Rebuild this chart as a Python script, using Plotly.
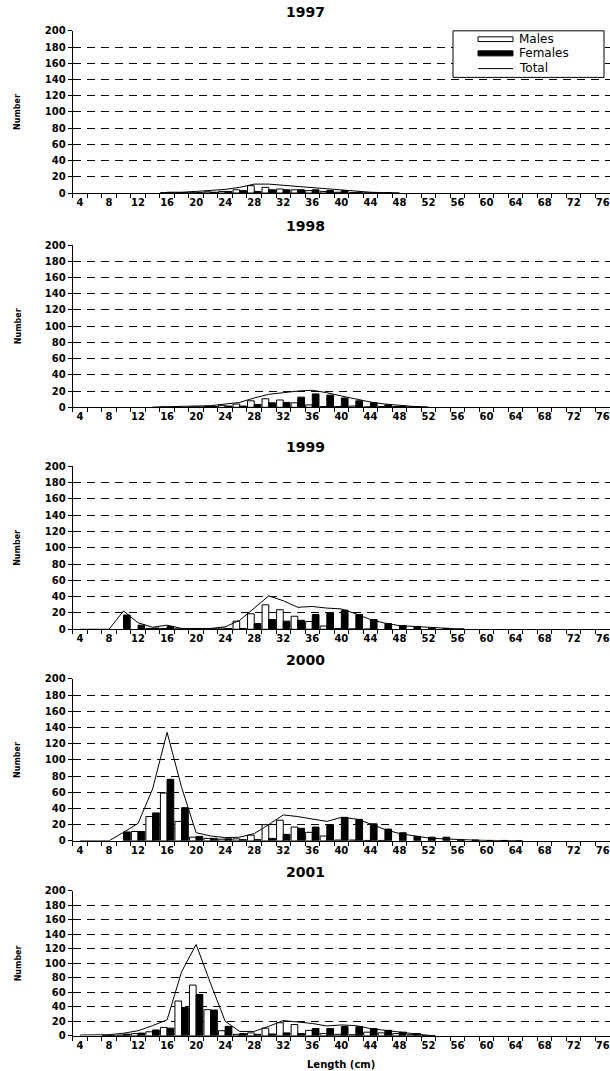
import plotly.graph_objects as go

# Length classes (cm)
lengths = [4, 6, 8, 10, 12, 14, 16, 18, 20, 22, 24, 26, 28, 30, 32, 34, 36, 38, 40,
           42, 44, 46, 48, 50, 52, 54, 56, 58, 60, 62, 64, 66, 68, 70, 72, 74, 76]
tick_vals = [4, 8, 12, 16, 20, 24, 28, 32, 36, 40, 44, 48, 52, 56, 60, 64, 68, 72, 76]
tick_text = [str(v) for v in tick_vals]
years = ["1997", "1998", "1999", "2000", "2001"]
N = None

#                4  6  8  10 12 14 16   18   20   22   24   26   28   30    32   34   36   38   40   42   44   46   48   50   52   54   56   58 60 62 64 66 68 70 72 74 76
males_1997   = [N, N, N, N, N, N, 0.5, 0.5, 1,   1.5, 2,   4,   9,   7,    5,   4,   3,   2,   1,   0.5, 0.3, N,   N,   N,   N,   N,   N,   N, N, N, N, N, N, N, N, N, N]
females_1997 = [N, N, N, N, N, N, 0.3, 0.5, 0.5, 1,   2,   3,   2,   4,    4,   4,   4,   3,   3,   1,   0.5, 0.3, N,   N,   N,   N,   N,   N, N, N, N, N, N, N, N, N, N]
total_1997   = [N, N, N, N, N, N, 1,   1,   2,   3,   4.5, 7,   11,  11,   9.5, 8,   7,   5,   4,   2,   1,   0.5, 0.3, N,   N,   N,   N,   N, N, N, N, N, N, N, N, N, N]

males_1998   = [N, N, N, N, N, N, 0.3, 0.3, 0.5, 1,   2.5, 4,   8,   10.5, 9,   5.5, 3,   1,   1,   1.5, 0.5, 1,   1,   0.3, N,   N,   N,   N, N, N, N, N, N, N, N, N, N]
females_1998 = [N, N, N, N, N, N, N,   N,   0.5, 1,   1.5, 1.5, 3.5, 5.5,  6,   12.5,16.5,15,  11.5,8,   5.5, 3,   1.5, 0.5, N,   N,   N,   N, N, N, N, N, N, N, N, N, N]
total_1998   = [N, N, N, N, N, 0.3, 0.5, 0.8, 1,   2,   4,   6,   11.5,16,   18,  20,  21,  18,  14,  10,  6.5, 4,   2.5, 1,   0.5, N,   N,   N, N, N, N, N, N, N, N, N, N]

males_1999   = [N, N, N, N,    N, 1,   1,   0.5, 0.3, 0.5, 1.5, 10,  19,  30,   24,  16,  9.5, 4,   1,   0.5, 0.3, N,   N,   N,   N,   N,   N,   N, N, N, N, N, N, N, N, N, N]
females_1999 = [N, N, N, 17.5, 5, 1.5, 3.5, 0.5, 0.3, 0.5, 1,   1,   7,   12,   10,  11,  18,  20.5,23.5,18,  12,  7,   4.5, 3.5, 1.5, 1,   0.5, N, N, N, N, N, N, N, N, N, N]
total_1999   = [0, 0, 0, 22.5, 8, 2.5, 5,   1,   0.8, 1,   3,   11,  26,  41,   35,  27,  28,  26,  25,  19,  12,  7.5, 4.5, 3.5, 2,   1,   0.5, N, N, N, N, N, N, N, N, N, N]

males_2000   = [N, N, N, N,    11.5, 30,   59,  24,  4.5, 3,   2,   2.5, 7,   20,  25.5, 17,   10.5, 6,   1,   1,   0.5, 0.5, N,   N,   N,   N,   N,   N,   N,   N,   N,   N, N, N, N, N, N]
females_2000 = [N, N, N, 11,   11.5, 34.5, 76,  41,  5.5, 3,   2.5, 1.5, 1.5, 3,   8,    15.5, 17,   20,  29,  26.5,21,  14.5,10,  5.5, 4.5, 4.5, 1,   1,   0.5, 0.5, 0.3, N, N, N, N, N, N]
total_2000   = [0, 0, 0, 10.5, 21.5, 64,   134, 66,  10,  6,   4,   4.5, 9,   20,  32,   30,   27,   24,  29,  27,  21,  14,  9,   6,   3.5, 2.5, 1.5, 1,   0.5, 0.5, 0.3, N, N, N, N, N, N]

males_2001   = [N,   N,   0.5, 1,   3,   5.5, 11.5, 48,   70,  36,   7,  2,  4,   10.5, 18,  15.5, 7.5,  3,    2,  1.5,  5,  4,   3,   1.5, 0.5, N, N, N, N, N, N, N, N, N, N, N, N]
females_2001 = [N,   N,   0.5, 2.3, 3.7, 8,   10.5, 39,   57,  35.5, 13, 3,  2,   2.5,  4,   3,    10,   10,   13, 12.5, 10, 7.5, 5,   3,   0.5, N, N, N, N, N, N, N, N, N, N, N, N]
total_2001   = [1,   1.5, 1.5, 3.5, 7,   14,  22,   88.5, 126, 72,   20, 6,  6,   13,   21,  19,  17,   13.5, 15, 14,   10, 7.5, 5,   2.5, 0.5, N, N, N, N, N, N, N, N, N, N, N, N]

males = [males_1997, males_1998, males_1999, males_2000, males_2001]
females = [females_1997, females_1998, females_1999, females_2000, females_2001]
totals = [total_1997, total_1998, total_1999, total_2000, total_2001]

W, H = 610, 1071
# plot areas in pixels: (top, bottom)
panels_px = [(30, 192), (244, 406), (465, 627.7), (677.3, 839), (889, 1033.7)]
title_y_px = [11, 225, 446, 658, 870]
x_left_px, x_right_px = 72.7, 610


def fy(p):
    p = (p - 5.2) / 0.9885
    return 1 - p / H


def fx(p):
    return p / W


FONT = "DejaVu Sans"
fig = go.Figure()
layout = dict(
    width=W, height=H, margin=dict(l=0, r=0, t=0, b=0),
    paper_bgcolor="white", plot_bgcolor="white",
    barmode="group", bargap=0.08, bargroupgap=0.0,
    showlegend=False, font=dict(family=FONT, color="black"),
)
annotations = []
shapes = []

for i, yr in enumerate(years):
    sfx = "" if i == 0 else str(i + 1)
    xa, ya = "x" + sfx, "y" + sfx
    fig.add_trace(go.Bar(x=lengths, y=males[i], xaxis=xa, yaxis=ya, name="Males",
                         marker=dict(color="white", line=dict(color="black", width=1))))
    fig.add_trace(go.Bar(x=lengths, y=females[i], xaxis=xa, yaxis=ya, name="Females",
                         marker=dict(color="black", line=dict(color="black", width=1))))
    fig.add_trace(go.Scatter(x=lengths, y=totals[i], xaxis=xa, yaxis=ya, name="Total",
                             mode="lines", line=dict(color="black", width=1),
                             connectgaps=False))
    top, bot = panels_px[i]
    layout["xaxis" + sfx] = dict(
        domain=[fx(x_left_px), fx(x_right_px)], anchor=ya, range=[3, 77],
        tickmode="array", tickvals=tick_vals, ticktext=tick_text, ticks="",
        showgrid=False, zeroline=False, showline=True, linecolor="black", linewidth=1,
        tickfont=dict(family=FONT, size=10, color="black", weight="bold"),
        minor=dict(tickmode="linear", tick0=3, dtick=2, ticks="outside", ticklen=4,
                   tickcolor="black", tickwidth=1, showgrid=False),
        fixedrange=True,
    )
    layout["yaxis" + sfx] = dict(
        domain=[fy(bot), fy(top)], anchor=xa, range=[0, 200],
        tickmode="linear", tick0=0, dtick=20, ticks="outside", ticklen=4,
        tickcolor="black", showgrid=True, gridcolor="black", gridwidth=1,
        griddash="8px,6px", zeroline=False, showline=True, linecolor="black",
        linewidth=1, tickfont=dict(family=FONT, size=10, color="black", weight="bold"),
        fixedrange=True,
    )
    annotations.append(dict(text="<b>" + yr + "</b>", x=fx(305), y=fy(title_y_px[i]),
                            xref="paper", yref="paper", showarrow=False,
                            xanchor="center", yanchor="middle",
                            font=dict(family=FONT, size=14, color="black")))
    annotations.append(dict(text="<b>Number</b>", x=fx(18), y=fy((top + bot) / 2),
                            xref="paper", yref="paper", showarrow=False, textangle=-90,
                            xanchor="center", yanchor="middle",
                            font=dict(family=FONT, size=8, color="black")))

annotations.append(dict(text="<b>Length (cm)</b>", x=fx(341), y=fy(1062),
                        xref="paper", yref="paper", showarrow=False,
                        xanchor="center", yanchor="middle",
                        font=dict(family=FONT, size=10, color="black")))

# legend drawn manually (box, swatches, labels)
shapes.append(dict(type="rect", xref="paper", yref="paper", x0=fx(453), x1=fx(604),
                   y0=fy(76.5), y1=fy(30), line=dict(color="black", width=1),
                   fillcolor="white", layer="above"))
shapes.append(dict(type="rect", xref="paper", yref="paper", x0=fx(478), x1=fx(513),
                   y0=fy(40.7), y1=fy(36), line=dict(color="black", width=1),
                   fillcolor="white", layer="above"))
shapes.append(dict(type="rect", xref="paper", yref="paper", x0=fx(478), x1=fx(513),
                   y0=fy(55), y1=fy(50), line=dict(color="black", width=1),
                   fillcolor="black", layer="above"))
shapes.append(dict(type="line", xref="paper", yref="paper", x0=fx(478), x1=fx(513),
                   y0=fy(67.7), y1=fy(67.7), line=dict(color="black", width=1),
                   layer="above"))
for txt, ypx in [("Males", 38), ("Females", 52.5), ("Total", 67.5)]:
    annotations.append(dict(text=txt, x=fx(517), y=fy(ypx), xref="paper", yref="paper",
                            showarrow=False, xanchor="left", yanchor="middle",
                            font=dict(family=FONT, size=12, color="black")))

layout["annotations"] = annotations
layout["shapes"] = shapes
fig.update_layout(**layout)

post = (
    "document.documentElement.style.margin='0';"
    "document.documentElement.style.padding='0';"
    "document.documentElement.style.overflow='hidden';"
    "document.body.style.margin='0';"
    "document.body.style.padding='0';"
    "document.body.style.overflow='hidden';"
)
fig.write_html("out.html", config={"displayModeBar": False},
               post_script=post)
